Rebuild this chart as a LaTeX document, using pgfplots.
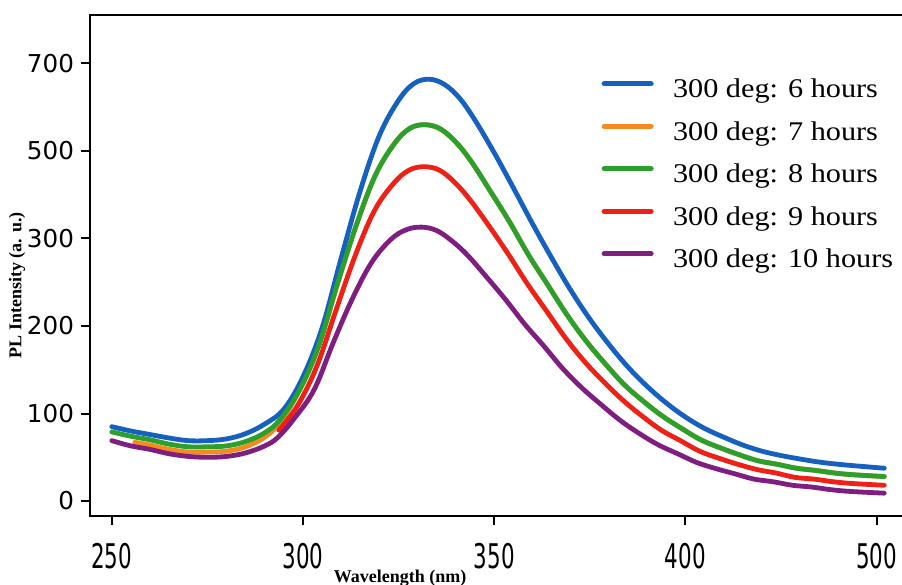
\documentclass[border=0pt]{standalone}
\usepackage{fontspec}
\setmainfont{Liberation Serif}
\newfontfamily\legfont[FakeStretch=1.12]{Liberation Serif}
\newfontfamily\ytfont{DejaVu Sans}
\newfontfamily\xtfont[FakeStretch=0.63]{DejaVu Sans}
\usepackage{pgfplots}
\pgfplotsset{compat=1.18}
\definecolor{cblue}{HTML}{1660C0}
\definecolor{corange}{HTML}{F58A1F}
\definecolor{cgreen}{HTML}{2CA02C}
\definecolor{cred}{HTML}{EE2117}
\definecolor{cpurple}{HTML}{7E1E80}
\begin{document}
\begin{tikzpicture}
\begin{axis}[
  scale only axis, width=409pt, height=250.5pt,
  xmin=244.3, xmax=458.2, ymin=-0.171, ymax=5.554,
  xtick={250,300,350,400,450}, xticklabels={250,300,350,400,500},
  ytick={0,1,2,3,4,5}, yticklabels={0,100,200,300,500,700},
  tick pos=left, tick align=outside, major tick length=4.5pt,
  every tick/.style={black, line width=1pt},
  axis line style={line width=1pt},
  xticklabel style={font=\xtfont\fontsize{17}{17}\selectfont, yshift=-5.5pt},
  yticklabel style={font=\ytfont\fontsize{12.3}{12.3}\selectfont},
  xlabel={Wavelength (nm)}, ylabel={PL Intensity (a. u.)},
  every axis x label/.style={at={(rel axis cs:0.379,0)}, anchor=center, yshift=-31pt},
  every axis y label/.style={at={(rel axis cs:0,0.461)}, rotate=90, anchor=center, yshift=36.5pt},
  label style={font=\bfseries\fontsize{9}{9}\selectfont},
  legend style={at={(rel axis cs:0.625,0.888)}, anchor=north west, draw=none, fill=none,
    inner sep=0pt, row sep=0pt, column sep=9.7pt,
    font=\legfont\fontsize{13.5}{13.5}\selectfont,
    nodes={inner sep=0pt, text height=13pt, text depth=8.25pt}},
  legend cell align=left,
  legend image code/.code={\draw[line width=2.4pt, line cap=round, #1] (0pt,4.5pt) -- (23.6pt,4.5pt);},
  every axis plot/.append style={line width=2.4pt, smooth, tension=0.6, line cap=round},
]
% orange (mostly hidden under green)
\addplot[corange, forget plot] coordinates {(256,0.67)(260,0.64)(265,0.59)(270,0.56)(275,0.56)(280,0.57)(285,0.62)(290,0.73)(294,0.90)(299,1.26)(304,1.76)(309,2.48)(314,3.16)(319,3.73)(324,4.09)(328,4.26)(332,4.30)(336,4.25)(340,4.10)(344,3.88)(349,3.54)(354,3.19)(359,2.81)(364,2.47)(369,2.13)(374,1.83)(379,1.57)(384,1.33)(389,1.14)(394,0.97)(399,0.83)(404,0.70)(409,0.61)(414,0.53)(419,0.46)(424,0.42)(429,0.375)(434,0.35)(439,0.32)(444,0.30)(452,0.28)};
% blue
\addplot[cblue, forget plot] coordinates {(250,0.85)(255,0.80)(260,0.76)(265,0.72)(270,0.69)(275,0.69)(280,0.71)(285,0.77)(290,0.88)(295,1.05)(300,1.42)(305,1.98)(310,2.78)(315,3.55)(320,4.18)(325,4.58)(329,4.77)(333,4.82)(337,4.76)(341,4.60)(345,4.35)(350,3.98)(355,3.58)(360,3.17)(365,2.78)(370,2.41)(375,2.08)(380,1.79)(385,1.53)(390,1.31)(395,1.12)(400,0.96)(405,0.83)(410,0.73)(415,0.64)(420,0.57)(425,0.52)(430,0.48)(435,0.445)(440,0.42)(445,0.40)(452,0.375)};
% green
\addplot[cgreen, forget plot] coordinates {(250,0.79)(255,0.74)(260,0.70)(265,0.65)(270,0.62)(275,0.62)(280,0.63)(285,0.68)(290,0.78)(294,0.93)(299,1.26)(304,1.76)(309,2.48)(314,3.16)(319,3.73)(324,4.09)(328,4.26)(332,4.30)(336,4.25)(340,4.10)(344,3.88)(349,3.54)(354,3.19)(359,2.81)(364,2.47)(369,2.13)(374,1.83)(379,1.57)(384,1.33)(389,1.14)(394,0.97)(399,0.83)(404,0.70)(409,0.61)(414,0.53)(419,0.46)(424,0.42)(429,0.375)(434,0.35)(439,0.32)(444,0.30)(452,0.28)};
% red
\addplot[cred, forget plot] coordinates {(293.7,0.81)(298.7,1.10)(303.7,1.55)(308.7,2.19)(313.7,2.81)(318.7,3.32)(323.7,3.63)(327.7,3.78)(331.7,3.82)(335.7,3.78)(339.7,3.64)(343.7,3.44)(348.7,3.14)(353.7,2.82)(358.7,2.48)(363.7,2.17)(368.7,1.86)(373.7,1.59)(378.7,1.36)(383.7,1.15)(388.7,0.97)(393.7,0.81)(398.7,0.69)(403.7,0.57)(408.7,0.49)(413.7,0.42)(418.7,0.36)(423.7,0.32)(428.7,0.27)(433.7,0.25)(438.7,0.22)(443.7,0.20)(452,0.18)};
% purple
\addplot[cpurple, forget plot] coordinates {(250,0.69)(255,0.63)(260,0.59)(265,0.54)(270,0.51)(275,0.50)(280,0.51)(285,0.55)(290,0.63)(293.5,0.73)(298,0.96)(303,1.28)(308,1.82)(313,2.32)(318,2.73)(323,2.99)(327,3.10)(331,3.13)(335,3.09)(339,2.97)(343,2.81)(348,2.56)(353,2.30)(358,2.02)(363,1.77)(368,1.51)(373,1.29)(378,1.10)(383,0.92)(388,0.77)(393,0.64)(398,0.54)(403,0.44)(408,0.37)(413,0.31)(418,0.25)(423,0.22)(428,0.18)(433,0.16)(438,0.13)(443,0.11)(452,0.09)};
\addlegendimage{cblue}\addlegendentry{300 deg: 6 hours}
\addlegendimage{corange}\addlegendentry{300 deg: 7 hours}
\addlegendimage{cgreen}\addlegendentry{300 deg: 8 hours}
\addlegendimage{cred}\addlegendentry{300 deg: 9 hours}
\addlegendimage{cpurple}\addlegendentry{300 deg: 10 hours}
\coordinate (BL) at (rel axis cs:0,0);
\coordinate (TL) at (rel axis cs:0,1);
\end{axis}
\pgfresetboundingbox
\path ([shift={(-45pt,-34.5pt)}]BL) rectangle ([shift={(406pt,7.5pt)}]TL);
\end{tikzpicture}
\end{document}
